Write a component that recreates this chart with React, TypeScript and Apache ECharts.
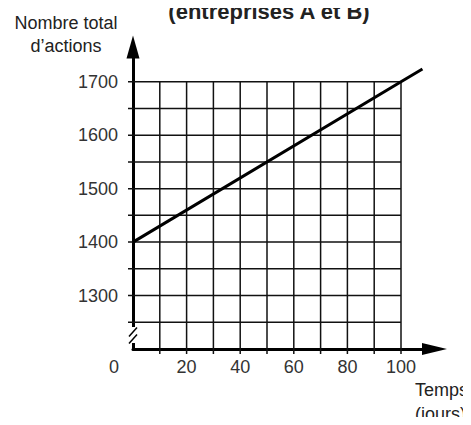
import React, { useEffect, useRef } from "react";
import * as echarts from "echarts";

const days = [0, 100, 108];
const totals = [1400, 1700, 1724];
const xTickLabels = [20, 40, 60, 80, 100];
const yTickLabels = [1300, 1400, 1500, 1600, 1700];
const xGridLines = [10, 20, 30, 40, 50, 60, 70, 80, 90, 100];
const yGridLines = [1250, 1300, 1350, 1400, 1450, 1500, 1550, 1600, 1650, 1700];
const yAxisName = ["Nombre total", "d\u2019actions"];
const xAxisName = ["Temps", "(jours)"];
const titleText = "(entreprises A et B)";
const originLabel = "0";

const FONT = "'Liberation Sans', Arial, sans-serif";

export default function App() {
  const ref = useRef<HTMLDivElement>(null);
  useEffect(() => {
    if (!ref.current) return;
    const chart = echarts.init(ref.current, undefined, { renderer: "svg" });
    const xMin = 0, xMax = 112.5, yMin = 1200, yMax = 1765;
    const gridTop = yGridLines[yGridLines.length - 1];
    const gridRight = xGridLines[xGridLines.length - 1];
    chart.setOption({
      animation: false,
      backgroundColor: "#fff",
      title: {
        text: titleText,
        left: 264,
        textAlign: "center",
        top: -5,
        textStyle: { fontFamily: FONT, fontSize: 22, fontWeight: "bold", color: "#222" },
      },
      grid: { left: 133, right: 36.5, top: 47, bottom: 76 },
      xAxis: {
        type: "value",
        min: xMin,
        max: xMax,
        interval: 20,
        splitLine: { show: false },
        axisTick: { show: false },
        axisLine: {
          show: true,
          symbol: ["none", "triangle"],
          symbolSize: [12, 25],
          lineStyle: { color: "#000", width: 3 },
        },
        axisLabel: {
          margin: 9,
          fontFamily: FONT,
          fontSize: 18,
          color: "#333",
          showMaxLabel: false,
          formatter: (v: number) => (xTickLabels.includes(v) ? String(v) : ""),
        },
      },
      yAxis: {
        type: "value",
        min: yMin,
        max: yMax,
        interval: 100,
        splitLine: { show: false },
        axisTick: { show: false },
        axisLine: {
          show: true,
          symbol: ["none", "triangle"],
          symbolSize: [13, 23],
          lineStyle: { color: "#000", width: 3 },
        },
        axisLabel: {
          margin: 15,
          fontFamily: FONT,
          fontSize: 18,
          color: "#333",
          showMaxLabel: false,
          formatter: (v: number) => (yTickLabels.includes(v) ? String(v) : ""),
        },
      },
      graphic: [
        {
          type: "text",
          x: 66,
          y: 11,
          style: {
            text: yAxisName.join("\n"),
            align: "center",
            verticalAlign: "top",
            fontFamily: FONT,
            fontSize: 18,
            lineHeight: 23,
            fill: "#222",
          },
        },
        {
          type: "text",
          x: 415,
          y: 378,
          style: {
            text: xAxisName.join("\n"),
            align: "left",
            verticalAlign: "top",
            fontFamily: FONT,
            fontSize: 18,
            lineHeight: 24,
            fill: "#222",
          },
        },
        {
          type: "text",
          x: 114,
          y: 367,
          style: {
            text: originLabel,
            align: "center",
            verticalAlign: "middle",
            fontFamily: FONT,
            fontSize: 18,
            fill: "#333",
          },
        },
      ],
      series: [
        {
          type: "custom",
          silent: true,
          clip: false,
          z: 1,
          data: [[xMin, yMin]],
          renderItem: (_p: any, api: any) => {
            const children: any[] = [];
            xGridLines.forEach((x) => {
              const t = api.coord([x, gridTop]);
              const b = api.coord([x, yMin]);
              children.push({
                type: "line",
                shape: { x1: t[0], y1: t[1], x2: b[0], y2: b[1] + 5 },
                style: { stroke: "#111", lineWidth: 1.5 },
              });
            });
            yGridLines.forEach((y) => {
              const l = api.coord([xMin, y]);
              const r = api.coord([gridRight, y]);
              children.push({
                type: "line",
                shape: { x1: l[0] - 5, y1: l[1], x2: r[0], y2: r[1] },
                style: { stroke: "#111", lineWidth: 1.5 },
              });
            });
            const o = api.coord([xMin, yMin]);
            children.push({
              type: "rect",
              shape: { x: o[0] - 3, y: o[1] - 22, width: 6, height: 16 },
              style: { fill: "#fff" },
            });
            children.push({
              type: "line",
              shape: { x1: o[0] - 4, y1: o[1] - 12.5, x2: o[0] + 4, y2: o[1] - 21.5 },
              style: { stroke: "#000", lineWidth: 1.5 },
            });
            children.push({
              type: "line",
              shape: { x1: o[0] - 4, y1: o[1] - 5.5, x2: o[0] + 4, y2: o[1] - 14.5 },
              style: { stroke: "#000", lineWidth: 1.5 },
            });
            return { type: "group", children };
          },
        },
        {
          type: "line",
          z: 3,
          data: days.map((d, i) => [d, totals[i]]),
          showSymbol: false,
          symbol: "none",
          silent: true,
          lineStyle: { color: "#000", width: 3 },
        },
      ],
    });
    return () => chart.dispose();
  }, []);
  return <div ref={ref} style={{ width: 471, height: 425, margin: -8 }} />;
}
